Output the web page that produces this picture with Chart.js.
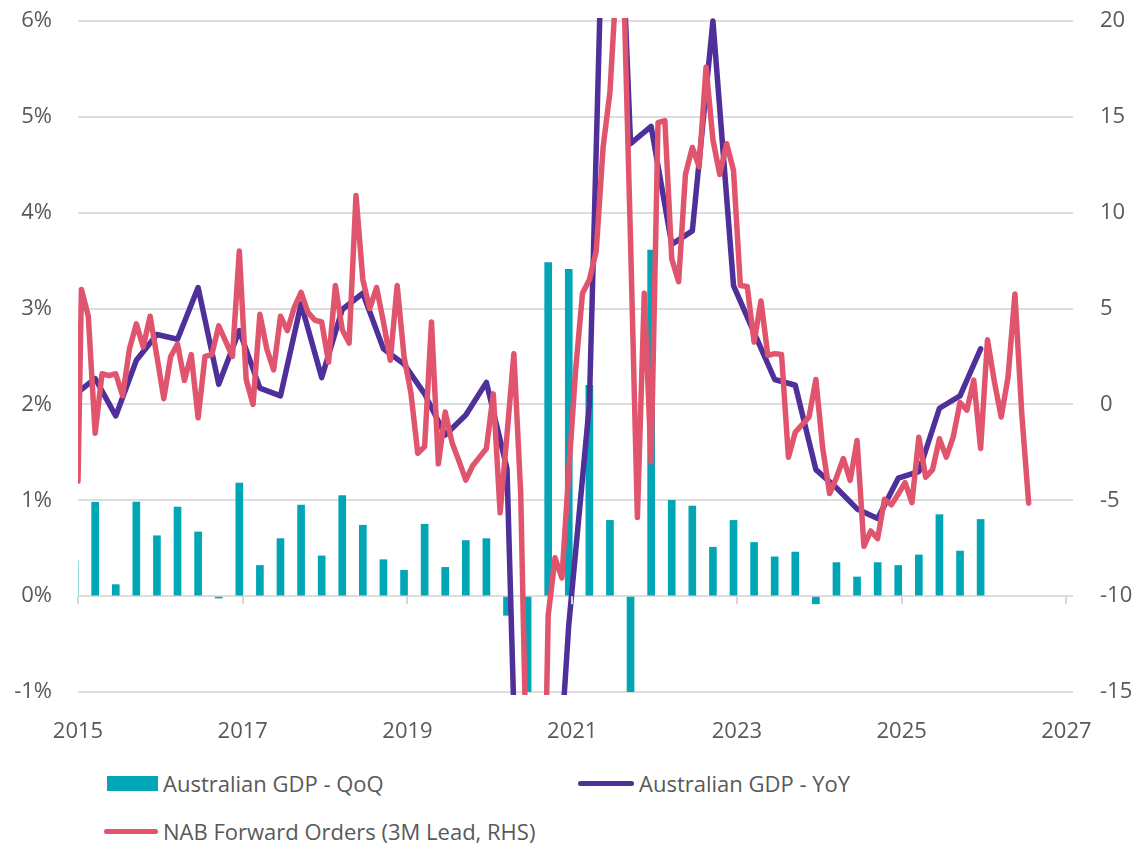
<!DOCTYPE html>
<html>
<head>
<meta charset="utf-8">
<title>Australian GDP vs NAB Forward Orders</title>
<script src="https://cdn.jsdelivr.net/npm/chart.js@4.4.1/dist/chart.umd.min.js"></script>
<style>
  body { margin: 0; background: #fff; font-family: 'Open Sans', sans-serif; }
  .wrap { position: relative; width: 1136px; height: 844px; overflow: hidden; }
  .chart-box { position: absolute; left: 0; top: 0; width: 1136px; height: 752px; }
  .legend-item { position: absolute; display: flex; align-items: center; height: 30px;
    font-size: 22px; color: #595959; white-space: nowrap; line-height: 1; }
  .legend-item .sw { margin-right: 5px; }
  .legend-item .sw.bar { height: 15px; }
  .legend-item .sw.line { height: 5px; border-radius: 3px; }
  .item-0 { left: 107px; top: 768px; }
  .item-1 { left: 578px; top: 768px; }
  .item-2 { left: 104px; top: 816px; }
</style>
</head>
<body>
<div class="wrap">
  <div class="chart-box"><canvas id="gdpChart"></canvas></div>
  <div id="legend"></div>
</div>
<script>
// Colours
const teal = "#00A5B6";
const purple = "#4F2F99";
const red = "#E0556D";

// x axis year ticks
const yearTicks = [2015, 2017, 2019, 2021, 2023, 2025, 2027];

// Quarterly GDP series, first quarter Dec 2014, every 3 months
const qtrStart = [2014, 12];
const gdpQoQ = [
  0.37, 0.98, 0.12, 0.98, 0.63, 0.93, 0.67, -0.02, 1.18, 0.32, 0.60, 0.95,
  0.42, 1.05, 0.74, 0.38, 0.27, 0.75, 0.30, 0.58, 0.60, -0.20, -7.0, 3.48,
  3.41, 2.2, 0.79, -1.9, 3.61, 1.0, 0.94, 0.51, 0.79, 0.56, 0.41, 0.46,
  -0.08, 0.35, 0.20, 0.35, 0.32, 0.43, 0.85, 0.47, 0.80
];
const gdpYoY = [
  2.10, 2.27, 1.88, 2.46, 2.73, 2.68, 3.22, 2.21, 2.77, 2.17, 2.09, 3.05,
  2.28, 2.99, 3.16, 2.58, 2.42, 2.11, 1.68, 1.89, 2.23, 1.33, -6.3, -3.6,
  -0.3, 2.0, 10.0, 4.72, 4.9, 3.67, 3.81, 6.0, 3.24, 2.75, 2.26, 2.2,
  1.32, 1.13, 0.91, 0.81, 1.23, 1.3, 1.96, 2.09, 2.58
];

// Monthly NAB forward orders (3M lead), Jan 2015 onwards
const navStart = [2015, 1];
const nabAtStart = -4.0; // reading at 1 Jan 2015, where the line begins
const nabOrders = [
  6.0, 4.6, -1.5, 1.6, 1.5, 1.6, 0.45, 2.9, 4.2, 3.0, 4.6, 2.5,      // 2015
  0.3, 2.5, 3.15, 1.25, 2.6, -0.7, 2.5, 2.6, 4.1, 3.3, 2.5, 8.0,     // 2016
  1.3, 0.0, 4.7, 2.9, 1.8, 4.6, 3.85, 5.05, 5.85, 4.8, 4.4, 4.3,     // 2017
  2.2, 6.2, 3.9, 3.2, 10.9, 6.5, 5.0, 6.1, 4.3, 2.3, 6.2, 2.5,       // 2018
  0.6, -2.55, -2.2, 4.3, -3.1, -0.4, -2.0, -2.95, -3.95, -3.2, -2.75, -2.3, // 2019
  0.55, -5.65, -1.6, 2.65, -4.65, -22, -35, -30, -11, -8.0, -9.05, -3.5,   // 2020
  1.8, 5.8, 6.5, 8.0, 13.4, 16.3, 22.5, 22.0, 8.5, -5.9, 5.8, -3.0,  // 2021
  14.7, 14.8, 7.6, 6.4, 12.0, 13.4, 12.4, 17.6, 13.8, 12.0, 13.6, 12.2, // 2022
  6.2, 6.15, 3.25, 5.4, 2.56, 2.65, 2.6, -2.75, -1.45, -1.05, -0.66, 1.3, // 2023
  -2.3, -4.65, -3.82, -2.82, -3.96, -1.88, -7.4, -6.6, -7.0, -4.95, -5.24, -4.67, // 2024
  -4.08, -5.12, -1.71, -3.8, -3.4, -1.79, -2.75, -1.71, 0.1, -0.3, 1.27, -2.3, // 2025
  3.37, 1.2, -0.66, 1.43, 5.76, -0.5, -5.15                          // 2026
];

// month -> decimal year (mid-month)
const monthSeq = (start, count, step) => {
  const out = [];
  let y = start[0], m = start[1];
  for (let i = 0; i < count; i++) {
    out.push(y + (m - 0.5) / 12);
    m += step;
    while (m > 12) { m -= 12; y += 1; }
  }
  return out;
};

const qtrX = monthSeq(qtrStart, gdpQoQ.length, 3);
const navX = monthSeq(navStart, nabOrders.length, 1);

const toPoints = (xs, ys) => ys.map((v, i) => ({ x: xs[i], y: v }));

const xMin = 2015;
const nabPoints = [{ x: xMin, y: nabAtStart }].concat(toPoints(navX, nabOrders));

// small tick marks hanging off the 0% line at each year label
const zeroLineTicks = {
  id: "zeroLineTicks",
  afterDatasetsDraw(chart) {
    const { ctx, scales } = chart;
    const y0 = scales.y.getPixelForValue(0);
    ctx.save();
    ctx.strokeStyle = "#D6D6D6";
    ctx.lineWidth = 2;
    yearTicks.forEach((yr) => {
      const px = Math.round(scales.x.getPixelForValue(yr));
      ctx.beginPath();
      ctx.moveTo(px, y0);
      ctx.lineTo(px, y0 + 8);
      ctx.stroke();
    });
    ctx.restore();
  },
};

Chart.defaults.font.family = "'Open Sans', sans-serif";
Chart.defaults.font.size = 22;
Chart.defaults.color = "#595959";

const lineClip = { left: 0, top: 3, right: 3, bottom: 3 };
const hidden = "rgba(0,0,0,0)";

const ctx = document.getElementById("gdpChart").getContext("2d");
const chart = new Chart(ctx, {
  type: "bar",
  data: {
    datasets: [
      {
        type: "bar",
        label: "Australian GDP - QoQ",
        data: toPoints(qtrX, gdpQoQ),
        backgroundColor: teal,
        barThickness: 7,
        yAxisID: "y",
        order: 2,
      },
      {
        type: "line",
        label: "Australian GDP - YoY",
        data: toPoints(qtrX, gdpYoY),
        borderColor: purple,
        backgroundColor: purple,
        borderWidth: 5.5,
        pointRadius: 0,
        tension: 0,
        borderJoinStyle: "round",
        borderCapStyle: "round",
        clip: lineClip,
        yAxisID: "y",
        order: 1,
      },
      {
        type: "line",
        label: "NAB Forward Orders (3M Lead, RHS)",
        data: nabPoints,
        borderColor: red,
        backgroundColor: red,
        borderWidth: 5.5,
        pointRadius: 0,
        tension: 0,
        borderJoinStyle: "round",
        borderCapStyle: "round",
        clip: lineClip,
        yAxisID: "y1",
        order: 0,
      },
    ],
  },
  options: {
    responsive: true,
    maintainAspectRatio: false,
    animation: false,
    layout: { padding: { top: 21, left: 0, right: 0, bottom: 0 } },
    plugins: {
      legend: { display: false },
      tooltip: { enabled: false },
    },
    scales: {
      x: {
        type: "linear",
        min: xMin,
        max: 2027.08,
        offset: false,
        grid: { display: false },
        border: { display: false },
        ticks: { padding: 19, maxRotation: 0, autoSkip: false, callback: (v) => String(v) },
        afterBuildTicks: (axis) => {
          axis.ticks = yearTicks.map((v) => ({ value: v }));
        },
        afterFit: (s) => { s.height = 60; },
      },
      y: {
        position: "left",
        min: -1,
        max: 6,
        ticks: { stepSize: 1, padding: 0, callback: (v) => v + "%" },
        // invisible tick marks make the gap between labels and plot
        grid: { color: "#DDDDDD", lineWidth: 2, drawTicks: true, tickLength: 26, tickColor: hidden },
        border: { display: false },
        afterFit: (s) => { s.width = 78; },
      },
      y1: {
        position: "right",
        min: -15,
        max: 20,
        ticks: { stepSize: 5, padding: 0 },
        grid: { drawOnChartArea: false, drawTicks: true, tickLength: 27, tickColor: hidden },
        border: { display: false },
        afterFit: (s) => { s.width = 63; },
      },
    },
  },
  plugins: [zeroLineTicks],
});

// HTML legend built from the datasets
const legendEl = document.getElementById("legend");
chart.data.datasets.forEach((ds, i) => {
  const item = document.createElement("div");
  item.className = "legend-item item-" + i;
  const sw = document.createElement("span");
  const isBar = ds.type === "bar";
  sw.className = "sw " + (isBar ? "bar" : "line");
  sw.style.width = isBar ? "51px" : (i === 1 ? "56px" : "54px");
  sw.style.background = isBar ? ds.backgroundColor : ds.borderColor;
  const txt = document.createElement("span");
  txt.textContent = ds.label;
  item.appendChild(sw);
  item.appendChild(txt);
  legendEl.appendChild(item);
});
</script>
</body>
</html>
